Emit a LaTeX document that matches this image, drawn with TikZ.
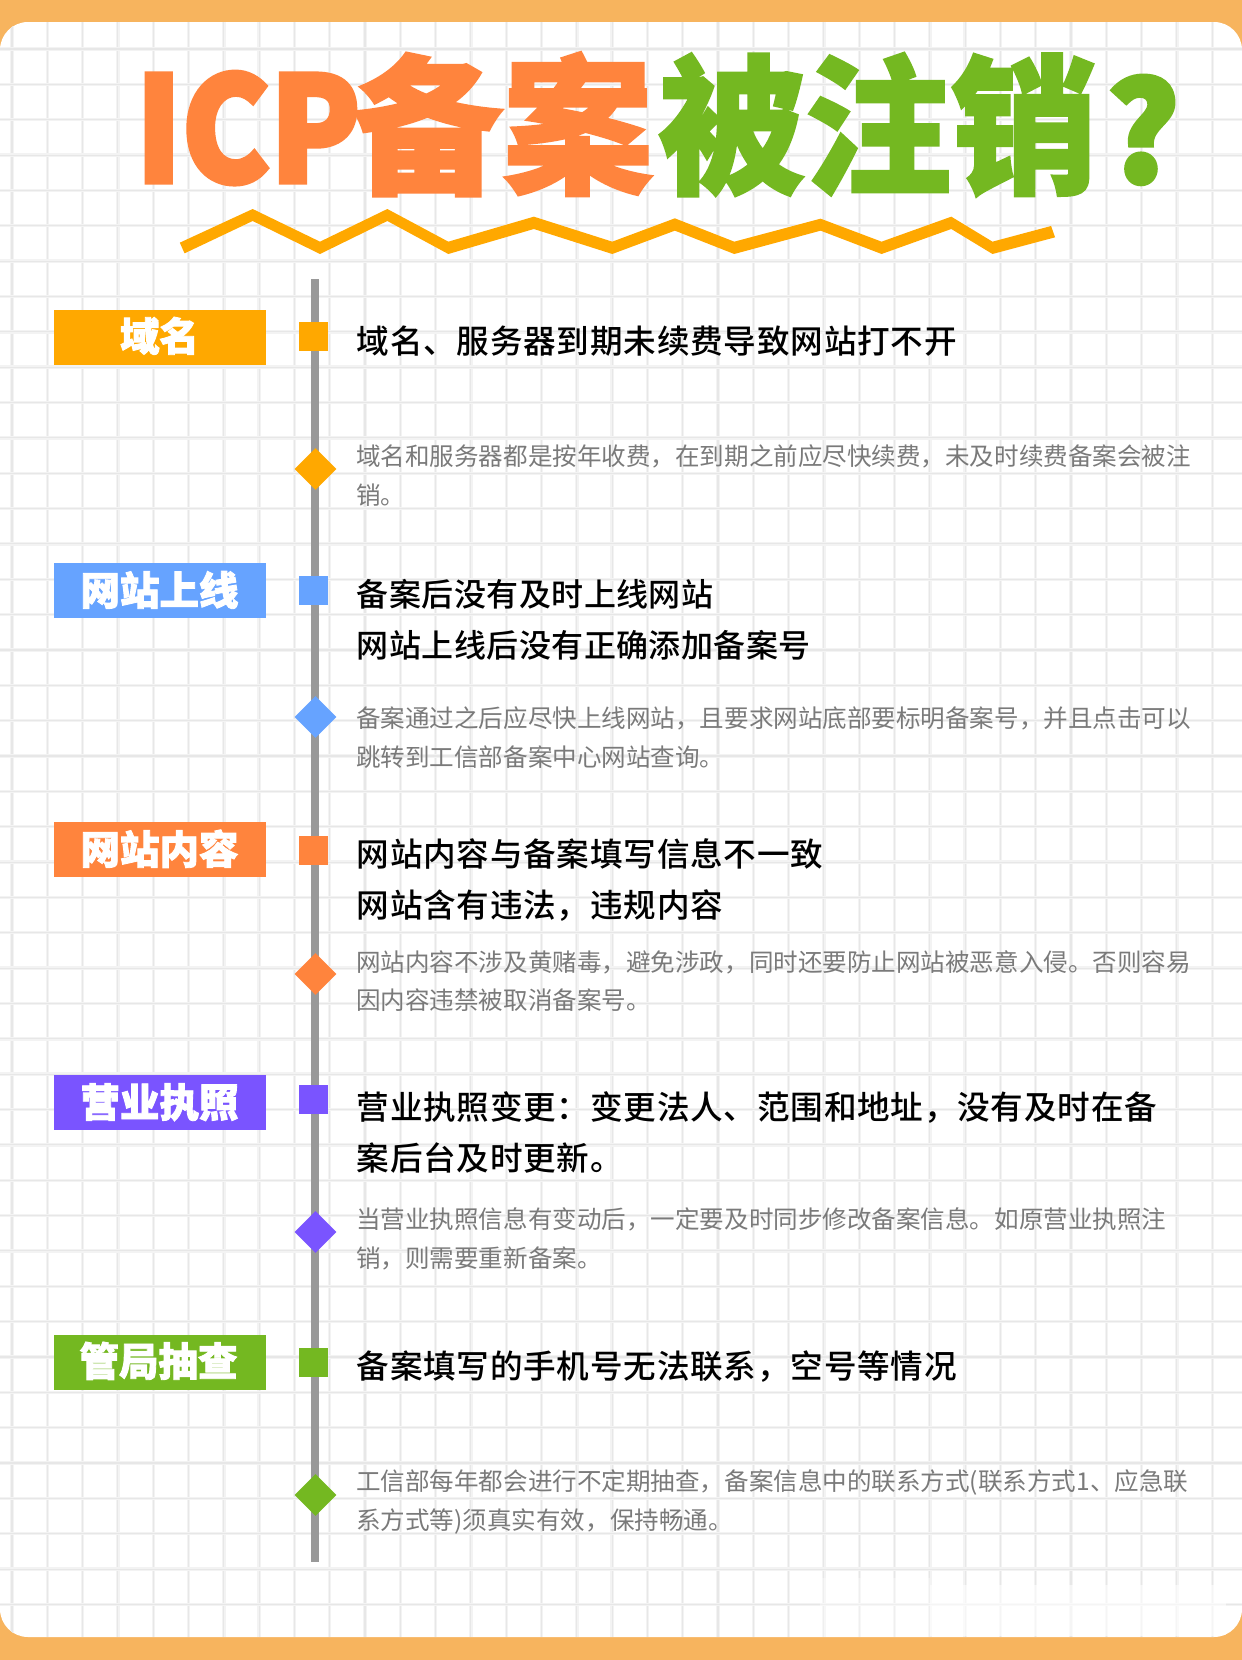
\documentclass[tikz,border=0pt]{standalone}
\usepackage{fontspec}
\usetikzlibrary{shapes.geometric}
\setmainfont{Noto Sans CJK SC}
\newfontfamily\headfont[LetterSpace=2.4]{Noto Sans CJK SC Medium}
\newfontfamily\headnarrow[LetterSpace=1.5]{Noto Sans CJK SC Medium}
\newfontfamily\blackfont[FakeBold=2.2]{Noto Sans CJK SC Black}
\newfontfamily\titlefont[FakeBold=1.8]{Noto Sans CJK SC Black}
\newfontfamily\latinfont[FakeBold=3.5]{Noto Sans CJK SC Black}
\definecolor{band}{HTML}{F7B45E}
\definecolor{gridsoft}{HTML}{F3F3F3}
\definecolor{gridcore}{HTML}{E7E7E7}
\definecolor{cyellow}{HTML}{FFA800}
\definecolor{cblue}{HTML}{66A3FF}
\definecolor{corange}{HTML}{FF843D}
\definecolor{cpurple}{HTML}{7A54FF}
\definecolor{cgreen}{HTML}{74B821}
\definecolor{axis}{HTML}{999999}
\definecolor{desc}{HTML}{7A7A7A}
\tikzset{
  x=1pt,y=-1pt,
  tag/.style={fill=#1,minimum width=212pt,minimum height=55pt,inner sep=0pt,anchor=north west},
  tagtext/.style={text=white,inner sep=0pt,anchor=base,font=\blackfont\fontsize{39.5}{40}\selectfont},
  mark sq/.style={fill=#1,minimum size=29pt,inner sep=0pt,anchor=north west},
  mark dia/.style={fill=#1,diamond,aspect=1,minimum size=42pt,inner sep=0pt},
  headtext/.style={inner sep=0pt,anchor=base west,text=black,font=\headfont\fontsize{32.6}{33}\selectfont},
  headnar/.style={inner sep=0pt,anchor=base west,text=black,font=\headnarrow\fontsize{32}{32}\selectfont},
  desctext/.style={inner sep=0pt,anchor=base west,text=desc,font=\fontsize{24.55}{24.55}\selectfont},
  titletext/.style={inner sep=0pt,anchor=base,font=\titlefont\fontsize{150}{150}\selectfont},
}
\begin{document}
\begin{tikzpicture}
\useasboundingbox (0,0) rectangle (1242,1660);
\fill[band] (0,0) rectangle (1242,1660);
\fill[white,rounded corners=28pt] (0,22) rectangle (1242,1637);
% grid
\begin{scope}
\clip[rounded corners=28pt] (0,22) rectangle (1242,1637);
\foreach \i in {0,...,35} {
  \pgfmathsetmacro{\gx}{12+35.3*\i}
  \draw[gridsoft,line width=3.4pt] (\gx,22) -- (\gx,1637);
  \draw[gridcore,line width=1.1pt] (\gx,22) -- (\gx,1637);
}
\foreach \i in {-1,...,44} {
  \pgfmathsetmacro{\gy}{49+35.35*\i}
  \draw[gridsoft,line width=3.4pt] (0,\gy) -- (1242,\gy);
  \draw[gridcore,line width=1.1pt] (0,\gy) -- (1242,\gy);
}
\fill[white,opacity=.35] (820,1578) rectangle (930,1637);
\fill[white,opacity=.6] (930,1585) rectangle (1226,1636);
\end{scope}
% title
\node[inner sep=0pt,anchor=base,font=\latinfont\fontsize{145}{145}\selectfont,text=corange,xscale=.91] (ticp) at (248,182) {ICP};
\node[titletext,text=corange] (tbei) at (503,182) {备案};
\node[titletext,text=cgreen,xscale=.975] (tzhu) at (878,182) {被注销};
\node[inner sep=0pt,anchor=base,font=\latinfont\fontsize{136}{136}\selectfont,text=cgreen] (tq) at (1143,182) {?};
% zigzag
\begin{scope}[xscale=.79208,yscale=.33333]
\fill[cyellow] (227,728) -- (319,627) -- (404,725) -- (489,627) -- (566,725) -- (674,650) -- (773,725) -- (852,655) -- (927,725) -- (1036,656) -- (1113,725) -- (1201,650) -- (1253,725) -- (1327,678) -- (1332,712) -- (1253,762) -- (1201,687) -- (1113,762) -- (1036,692) -- (927,762) -- (852,692) -- (773,762) -- (674,687) -- (566,762) -- (489,663) -- (404,762) -- (319,663) -- (233,760) -- cycle;
\end{scope}
% axis
\coordinate (axtop) at (315,279);
\coordinate (axbot) at (315,1562);
\draw[axis,line width=8pt] (axtop) -- (axbot);
% tags
\node[tag=cyellow] (t1) at (54,310) {};
\node[tagtext] (t1t) at (159.5,351) {域名};
\node[tag=cblue] (t2) at (54,563) {};
\node[tagtext] (t2t) at (159.5,605) {网站上线};
\node[tag=corange] (t3) at (54,822) {};
\node[tagtext] (t3t) at (159.5,864) {网站内容};
\node[tag=cpurple] (t4) at (54,1075) {};
\node[tagtext] (t4t) at (159.5,1117) {营业执照};
\node[tag=cgreen] (t5) at (54,1335) {};
\node[tagtext] (t5t) at (158.5,1376) {管局抽查};
% markers
\node[mark sq=cyellow] (s1) at (299,322) {};
\node[mark sq=cblue] (s2) at (299,576) {};
\node[mark sq=corange] (s3) at (299,836) {};
\node[mark sq=cpurple] (s4) at (299,1085) {};
\node[mark sq=cgreen] (s5) at (299,1348) {};
\node[mark dia=cyellow] (d1) at (315.5,469) {};
\node[mark dia=cblue] (d2) at (315.5,717) {};
\node[mark dia=corange] (d3) at (315.5,974) {};
\node[mark dia=cpurple] (d4) at (315.5,1232) {};
\node[mark dia=cgreen] (d5) at (315.5,1495) {};
% headings
\node[headtext] (h1) at (356.5,353.5) {域名、服务器到期未续费导致网站打不开};
\node[headnar] (h2a) at (356.5,606.5) {备案后没有及时上线网站};
\node[headnar] (h2b) at (356.5,657.5) {网站上线后没有正确添加备案号};
\node[headtext] (h3a) at (356.5,866.5) {网站内容与备案填写信息不一致};
\node[headtext] (h3b) at (356.5,917.5) {网站含有违法，违规内容};
\node[headtext] (h4a) at (356.5,1119.5) {营业执照变更：变更法人、范围和地址，没有及时在备};
\node[headtext] (h4b) at (356.5,1170.5) {案后台及时更新。};
\node[headtext] (h5) at (356.5,1378.5) {备案填写的手机号无法联系，空号等情况};
% descriptions
\node[desctext] (p1a) at (356,465) {域名和服务器都是按年收费，在到期之前应尽快续费，未及时续费备案会被注};
\node[desctext] (p1b) at (356,504) {销。};
\node[desctext] (p2a) at (356,727) {备案通过之后应尽快上线网站，且要求网站底部要标明备案号，并且点击可以};
\node[desctext] (p2b) at (356,766) {跳转到工信部备案中心网站查询。};
\node[desctext] (p3a) at (356,971) {网站内容不涉及黄赌毒，避免涉政，同时还要防止网站被恶意入侵。否则容易};
\node[desctext] (p3b) at (356,1009) {因内容违禁被取消备案号。};
\node[desctext] (p4a) at (356,1228) {当营业执照信息有变动后，一定要及时同步修改备案信息。如原营业执照注};
\node[desctext] (p4b) at (356,1267) {销，则需要重新备案。};
\node[desctext] (p5a) at (356,1490) {工信部每年都会进行不定期抽查，备案信息中的联系方式(联系方式1、应急联};
\node[desctext] (p5b) at (356,1529) {系方式等)须真实有效，保持畅通。};
\end{tikzpicture}
\end{document}
